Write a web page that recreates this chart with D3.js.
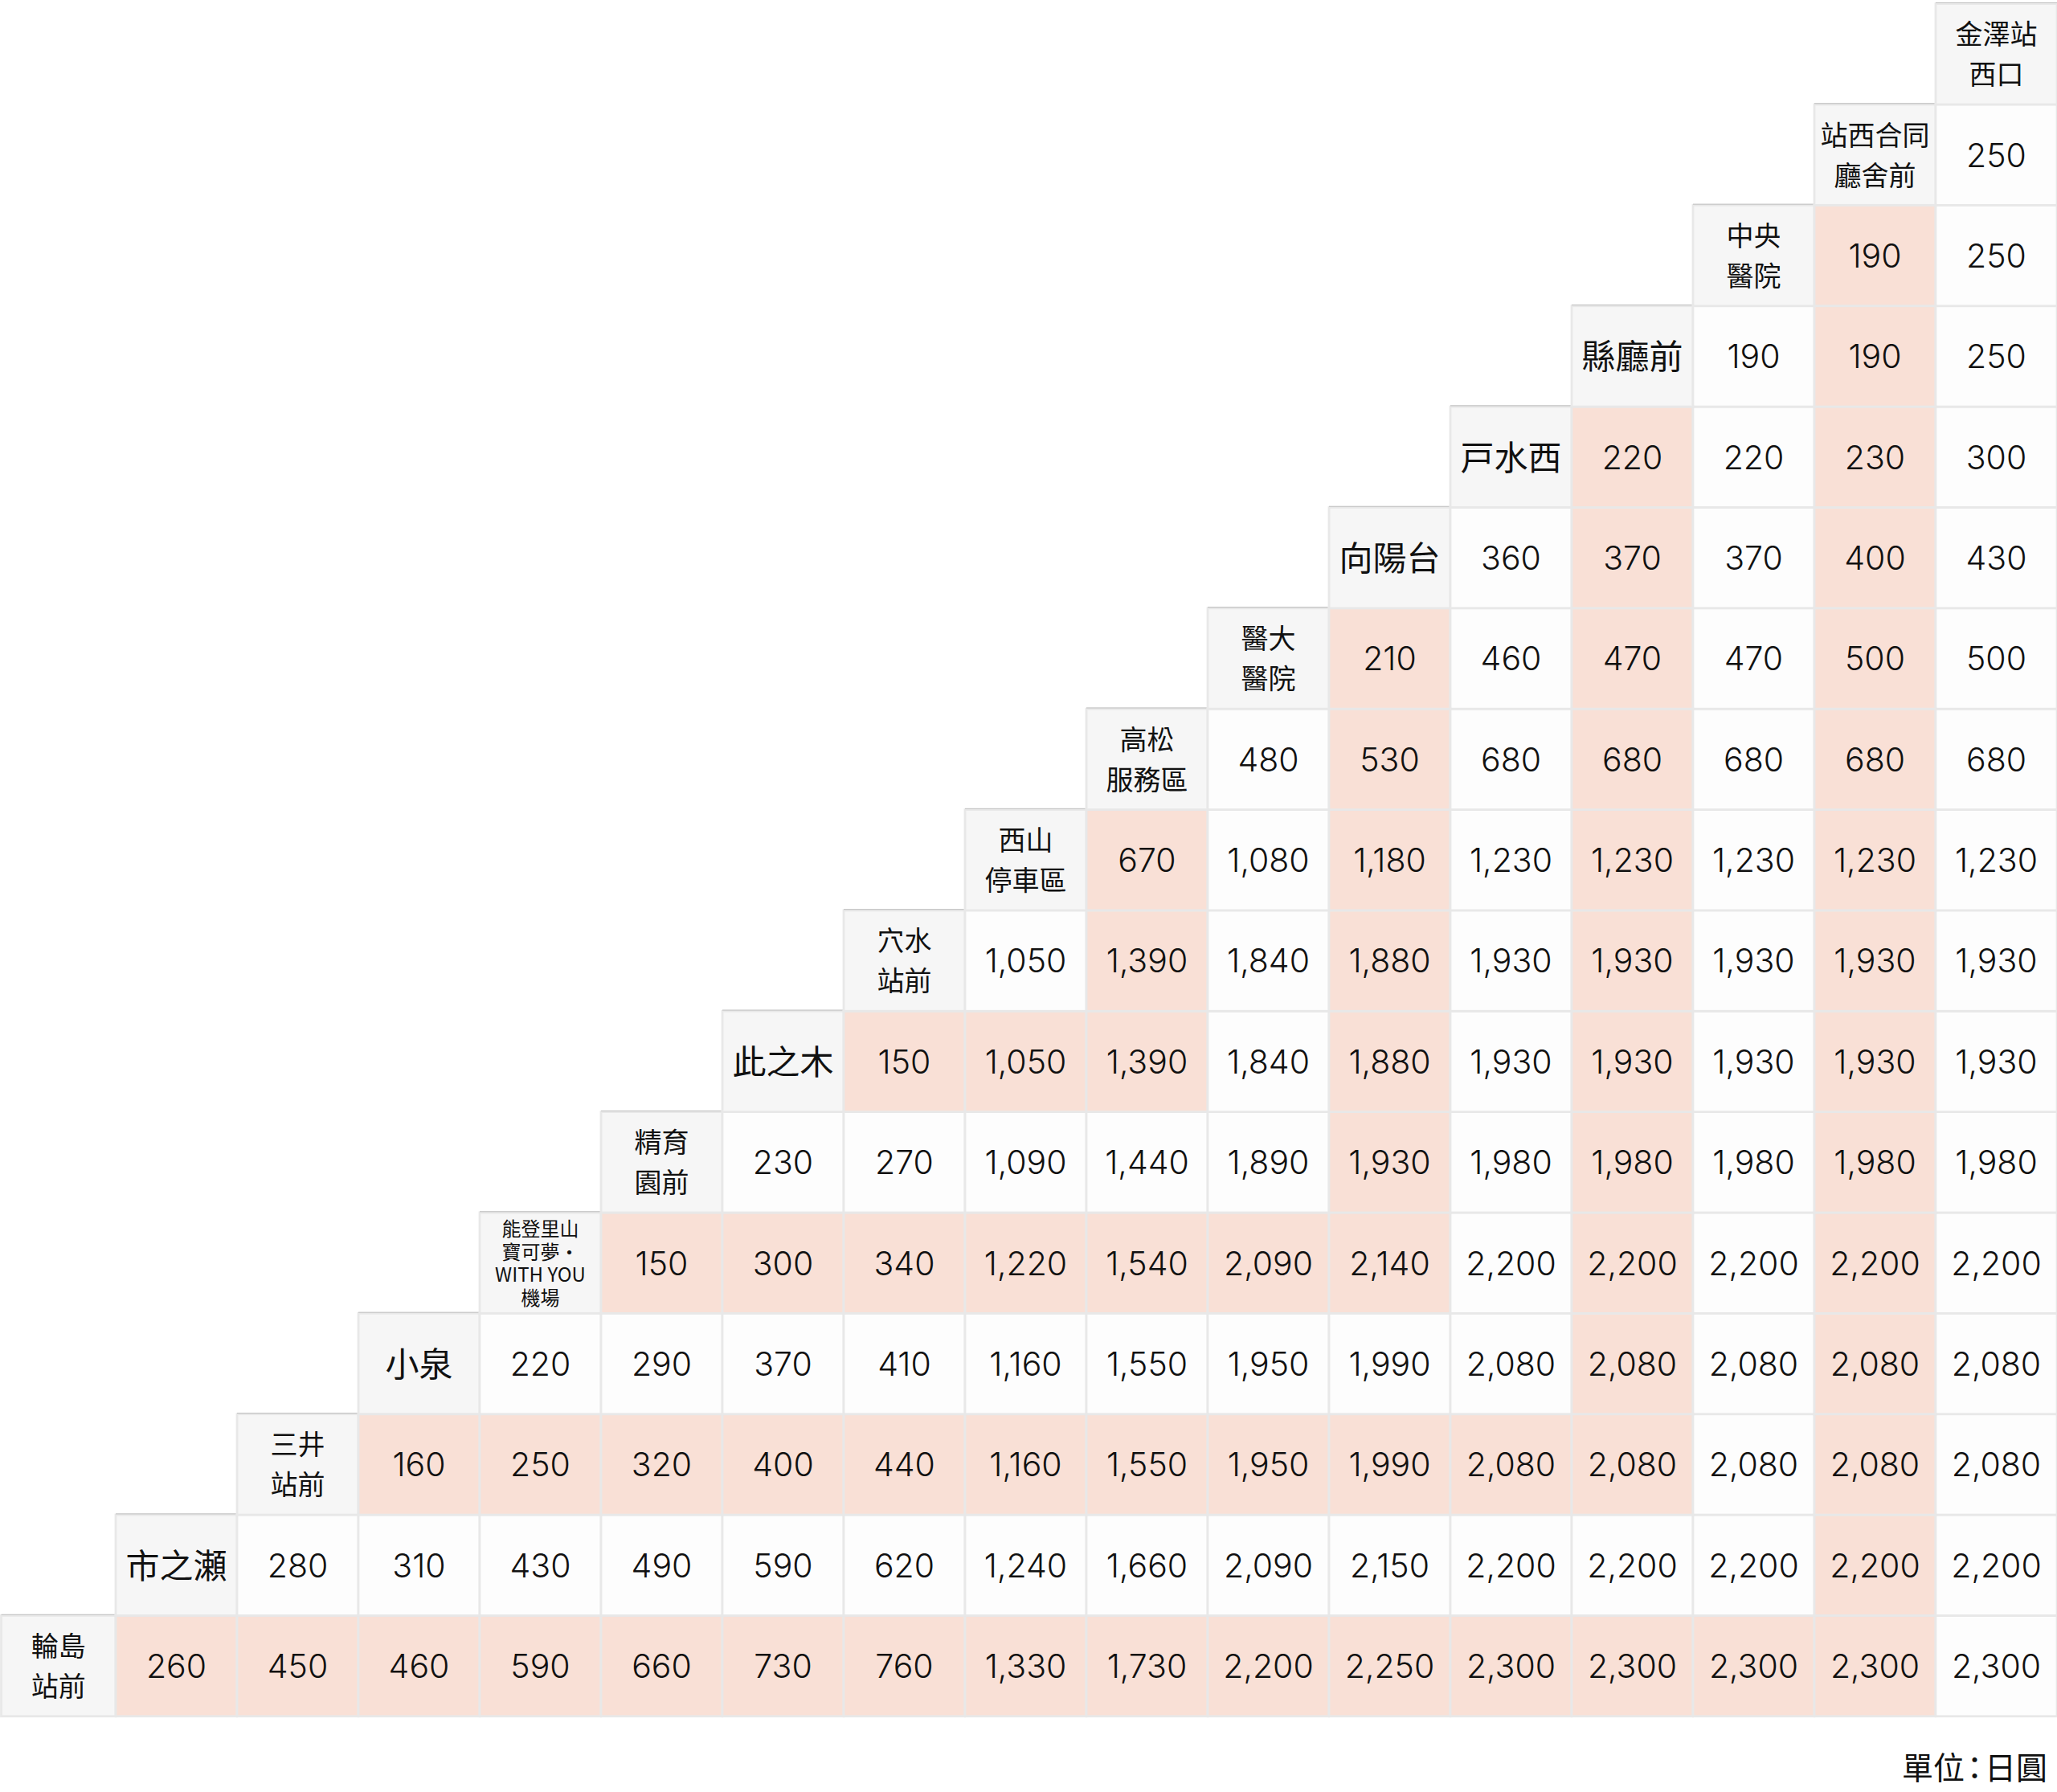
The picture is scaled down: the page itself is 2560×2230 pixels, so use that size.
<!DOCTYPE html>
<html>
<head>
<meta charset="utf-8">
<script src="https://cdn.jsdelivr.net/npm/d3@7"></script>
<style>
    html, body { margin: 0; padding: 0; background: #fff; }
</style>
</head>
<body>
<div id="fare-table"></div>
<script>
'use strict';

// stations, left to right (row headers bottom to top)
var stations = ["輪島站前", "市之瀬", "三井站前", "小泉", "能登里山寶可夢・WITH YOU機場", "精育園前",
    "此之木", "穴水站前", "西山停車區", "高松服務區", "醫大醫院", "向陽台", "戸水西", "縣廳前",
    "中央醫院", "站西合同廳舍前", "金澤站西口"];

// how each header label is broken into lines
var stationLines = [["輪島", "站前"], ["市之瀬"], ["三井", "站前"], ["小泉"],
    ["能登里山", "寶可夢・", "WITH YOU", "機場"], ["精育", "園前"], ["此之木"], ["穴水", "站前"],
    ["西山", "停車區"], ["高松", "服務區"], ["醫大", "醫院"], ["向陽台"], ["戸水西"], ["縣廳前"],
    ["中央", "醫院"], ["站西合同", "廳舍前"], ["金澤站", "西口"]];

// fares (yen) from each station to every station on its right
var faresFromWajima = [260, 450, 460, 590, 660, 730, 760, 1330, 1730, 2200, 2250, 2300, 2300, 2300, 2300, 2300];
var faresFromIchinose = [280, 310, 430, 490, 590, 620, 1240, 1660, 2090, 2150, 2200, 2200, 2200, 2200, 2200];
var faresFromMitsui = [160, 250, 320, 400, 440, 1160, 1550, 1950, 1990, 2080, 2080, 2080, 2080, 2080];
var faresFromKoizumi = [220, 290, 370, 410, 1160, 1550, 1950, 1990, 2080, 2080, 2080, 2080, 2080];
var faresFromAirport = [150, 300, 340, 1220, 1540, 2090, 2140, 2200, 2200, 2200, 2200, 2200];
var faresFromSeiikuen = [230, 270, 1090, 1440, 1890, 1930, 1980, 1980, 1980, 1980, 1980];
var faresFromKonoki = [150, 1050, 1390, 1840, 1880, 1930, 1930, 1930, 1930, 1930];
var faresFromAnamizu = [1050, 1390, 1840, 1880, 1930, 1930, 1930, 1930, 1930];
var faresFromNishiyama = [670, 1080, 1180, 1230, 1230, 1230, 1230, 1230];
var faresFromTakamatsu = [480, 530, 680, 680, 680, 680, 680];
var faresFromIdai = [210, 460, 470, 470, 500, 500];
var faresFromKoyodai = [360, 370, 370, 400, 430];
var faresFromTomizuNishi = [220, 220, 230, 300];
var faresFromKencho = [190, 190, 250];
var faresFromChuo = [190, 250];
var faresFromGodo = [250];
var faresFromKanazawa = [];

var fares = [faresFromWajima, faresFromIchinose, faresFromMitsui, faresFromKoizumi, faresFromAirport,
    faresFromSeiikuen, faresFromKonoki, faresFromAnamizu, faresFromNishiyama, faresFromTakamatsu,
    faresFromIdai, faresFromKoyodai, faresFromTomizuNishi, faresFromKencho, faresFromChuo,
    faresFromGodo, faresFromKanazawa];

var unitParts = ["單位", "：", "日圓"];

var outerWidth = 2560;
var outerHeight = 2230;
var n = stations.length;

var headerFill = "#f6f6f6";
var plainFill = "#fdfdfd";
var bandFill = "#f9e0d6";
var gridColor = "#e8e8e8";
var textColor = "#111";
var cjkFont = "'Noto Sans CJK TC', 'Noto Sans CJK JP', sans-serif";
var numFont = "Inter, 'Liberation Sans', sans-serif";

var x = d3.scaleBand().domain(d3.range(n)).range([-7, 2560]);
var y = d3.scaleBand().domain(d3.range(n)).range([4.6, 2135.8]);
var fmt = d3.format(",");

// row of station i counted from the top
function rowOf(i) { return n - 1 - i; }

// nested L bands: a cell belongs to the row band or the column band
function isBand(from, to) {
    var v = n - 1 - to;
    return v > from ? from % 2 === 0 : v % 2 === 1;
}

var cells = [];
stations.forEach(function(name, i) {
    cells.push({ header: true, from: i, to: i, lines: stationLines[i] });
    fares[i].forEach(function(f, k) {
        cells.push({ header: false, from: i, to: i + 1 + k, value: f });
    });
});

var svg = d3.select("#fare-table")
    .append("svg")
    .attr("width", outerWidth)
    .attr("height", outerHeight)
    .attr("viewBox", "0 0 " + outerWidth + " " + outerHeight);

function cellX(d) { return Math.max(1.5, x(d.to)); }
function cellW(d) { return x(d.to) + x.bandwidth() - cellX(d); }

var g = svg.selectAll(".cell")
    .data(cells)
    .enter()
    .append("g")
    .attr("class", "cell");

g.append("rect")
    .attr("x", cellX)
    .attr("y", function(d) { return y(rowOf(d.from)); })
    .attr("width", cellW)
    .attr("height", y.bandwidth())
    .attr("fill", function(d) {
        if (d.header) return headerFill;
        return isBand(d.from, d.to) ? bandFill : plainFill;
    })
    .attr("stroke", gridColor)
    .attr("stroke-width", 2.8);

// thin darker edge on top of the header cells
g.filter(function(d) { return d.header; })
    .append("line")
    .attr("x1", cellX)
    .attr("x2", function(d) { return cellX(d) + cellW(d); })
    .attr("y1", function(d) { return y(rowOf(d.from)) - 1.2; })
    .attr("y2", function(d) { return y(rowOf(d.from)) - 1.2; })
    .attr("stroke", "#bdbdbd")
    .attr("stroke-width", 1);

g.filter(function(d) { return !d.header; })
    .append("text")
    .attr("x", function(d) { return x(d.to) + x.bandwidth() / 2; })
    .attr("y", function(d) { return y(rowOf(d.from)) + y.bandwidth() / 2; })
    .attr("dy", "0.364em")
    .attr("text-anchor", "middle")
    .attr("font-family", numFont)
    .attr("font-weight", 300)
    .attr("font-size", 41)
    .attr("fill", textColor)
    .text(function(d) { return fmt(d.value); });

// station names, one text per header with a tspan per line
g.filter(function(d) { return d.header; })
    .each(function(d) {
        var lines = d.lines;
        var size = lines.length === 1 ? 42 : (lines.length === 2 ? 34 : 24);
        var step = lines.length === 1 ? 0 : (lines.length === 2 ? 50 : 28.5);
        var cx = cellX(d) + cellW(d) / 2;
        var cy = y(rowOf(d.from)) + y.bandwidth() / 2;
        d3.select(this).append("text")
            .attr("class", "label")
            .attr("text-anchor", "middle")
            .attr("font-family", cjkFont)
            .attr("font-size", size)
            .attr("fill", textColor)
            .selectAll("tspan")
            .data(lines)
            .enter()
            .append("tspan")
            .attr("x", cx)
            .attr("y", function(t, k) { return cy + (k - (lines.length - 1) / 2) * step + 0.38 * size; })
            .text(function(t) { return t; });
    });

svg.append("text")
    .attr("x", 2548)
    .attr("y", 2214)
    .attr("text-anchor", "end")
    .attr("font-family", cjkFont)
    .attr("font-size", 39)
    .attr("fill", textColor)
    .selectAll("tspan")
    .data(unitParts)
    .enter()
    .append("tspan")
    .attr("dx", function(t, k) { return k === 0 ? 0 : -7; })
    .text(function(t) { return t; });
</script>
</body>
</html>
